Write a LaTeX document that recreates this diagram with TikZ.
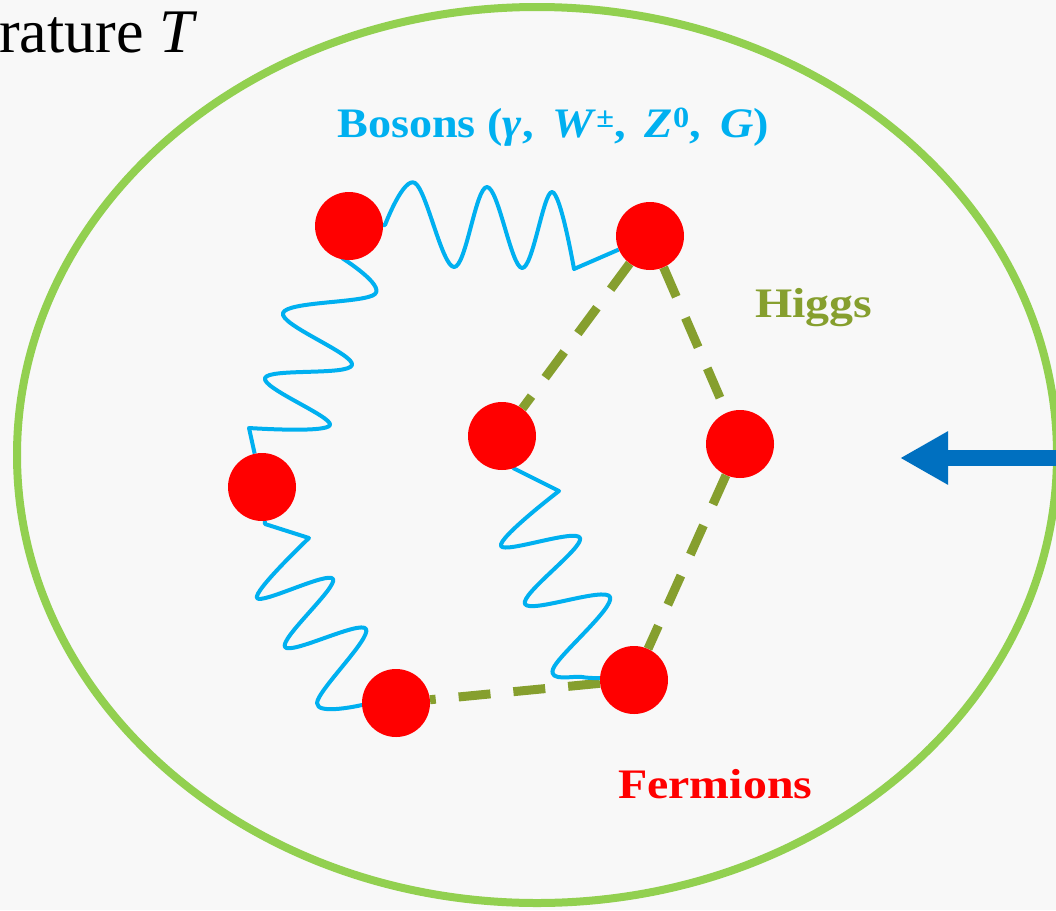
\documentclass[tikz,border=0pt]{standalone}
\usepackage{fontspec}
\setmainfont{Liberation Serif}
\newfontfamily\labfont[FakeStretch=1.14]{Liberation Serif}
\newfontfamily\bosfont[FakeStretch=1.1]{Liberation Serif}
\usetikzlibrary{arrows.meta}
\definecolor{bgc}{RGB}{248,248,248}
\definecolor{ringc}{RGB}{146,208,80}
\definecolor{ballc}{RGB}{255,0,0}
\definecolor{wavec}{RGB}{0,176,240}
\definecolor{olivec}{RGB}{134,159,46}
\definecolor{arrowc}{RGB}{0,112,192}
\pgfdeclarelayer{back}
\pgfdeclarelayer{edges}
\pgfsetlayers{back,edges,main}
\tikzset{
  ball/.style={circle, fill=ballc, minimum size=68pt, inner sep=0pt, draw=none},
  higgsline/.style={draw=olivec, line width=9pt, dash pattern=on 32pt off 23pt},
  wavy/.style={draw=wavec, line width=4pt, line join=round},
  wv/.style={smooth, tension=0.6},
  lab/.style={anchor=base west, inner sep=0pt},
}
\newcommand{\tempfont}{\fontsize{62}{70}\selectfont}
\newcommand{\bosstyle}{\bosfont\bfseries\fontsize{42}{48}\selectfont}
\newcommand{\labstyle}{\labfont\bfseries\fontsize{42}{48}\selectfont}
\newcommand{\cm}{,\hspace{0.45em}}
\begin{document}
\begin{tikzpicture}[x=1pt,y=-1pt]
\useasboundingbox (0,0) rectangle (1056,910);
\clip (0,0) rectangle (1056,910);
\begin{pgfonlayer}{back}
  \fill[bgc] (0,0) rectangle (1056,910);
  \draw[ringc, line width=8pt] (537,455) ellipse [x radius=520, y radius=448];
\end{pgfonlayer}

\node[ball] (A) at (349,226) {};
\node[ball] (B) at (650,236) {};
\node[ball] (C) at (502,436) {};
\node[ball] (D) at (740,444) {};
\node[ball] (E) at (262,487) {};
\node[ball] (F) at (396,703) {};
\node[ball] (G) at (634,680) {};

\begin{pgfonlayer}{edges}
  \draw[higgsline] (B) -- (C);
  \draw[higgsline] (B) -- (D);
  \draw[higgsline] (D) -- (G);
  \draw[higgsline] (G) -- (F);
  % A -- B
  \draw[wavy] (A) -- plot[wv] coordinates {(385,225) (415,183) (454,267) (487,187) (522,268) (552,192) (574,269)} -- (B);
  % A -- E
  \draw[wavy] (A) -- plot[wv] coordinates {(342,258) (375,294) (283,313) (352,365) (265,378) (330,425) (249,428)} -- (E);
  % E -- F
  \draw[wavy] (E) -- (265,524) -- plot[wv] coordinates {(309,538) (257,598) (333,579) (285,647) (366,629) (317,703) (362,705)} -- (F);
  % C -- G
  \draw[wavy] (C) -- (513,468) -- plot[wv] coordinates {(559,491) (501,546) (580,538) (525,604) (610,597) (553,669) (582,677) (602,678)} -- (G);
\end{pgfonlayer}

\coordinate (arrowtail) at (1075,458);
\coordinate (arrowtip) at (900,458);
\draw[arrowc, line width=16pt, -{Triangle[length=48pt,width=50pt]}] (arrowtail) -- (arrowtip);

\node[lab, font=\tempfont] (temp) at (-1,52) {rature \textit{T}};
\node[lab, text=wavec, font=\bosstyle] (bos) at (337,137) {Bosons (\textit{γ}\cm\textit{W}\textsuperscript{±}\cm\textit{Z}\textsuperscript{0}\cm\textit{G})};
\node[lab, text=olivec, font=\labstyle] (higgs) at (755,317) {Higgs};
\node[lab, text=ballc, font=\labstyle] (ferm) at (618,798) {Fermions};
\end{tikzpicture}
\end{document}
